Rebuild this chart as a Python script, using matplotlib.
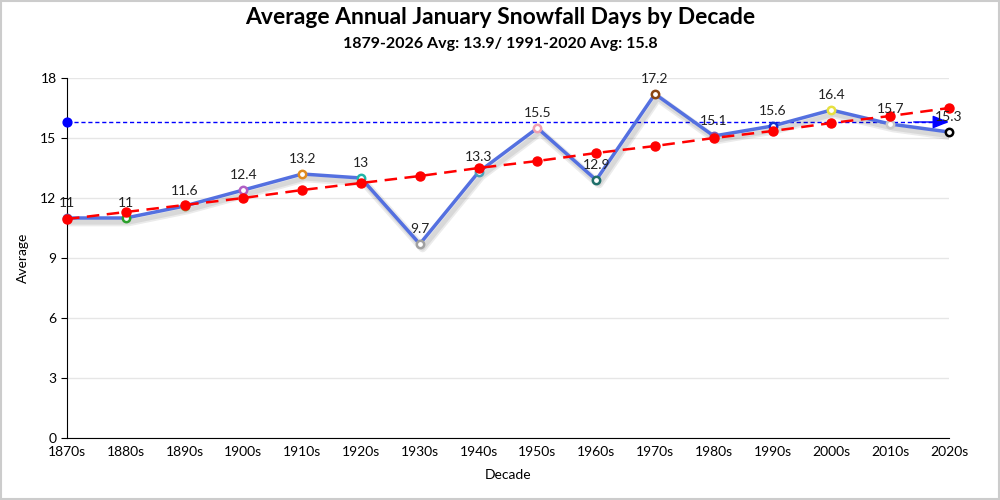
import matplotlib
matplotlib.use('Agg')
import matplotlib.pyplot as plt
import matplotlib.patheffects as pe

plt.rcParams['font.family'] = ['Lato', 'DejaVu Sans']

decades = ['1870s', '1880s', '1890s', '1900s', '1910s', '1920s', '1930s', '1940s',
           '1950s', '1960s', '1970s', '1980s', '1990s', '2000s', '2010s', '2020s']
averages = [11, 11, 11.6, 12.4, 13.2, 13, 9.7, 13.3, 15.5, 12.9, 17.2, 15.1, 15.6, 16.4, 15.7, 15.3]
trend = [10.95, 11.3, 11.65, 12.0, 12.4, 12.75, 13.1, 13.5, 13.85, 14.25, 14.6, 15.0,
         15.35, 15.75, 16.1, 16.5]
normal_avg = 15.8
marker_colors = ['#5470c6', '#2ca02c', '#8c8c3c', '#b05fc4', '#e08a1e', '#1fb5a8', '#a0a0a0',
                 '#4aa0b8', '#f0a0b0', '#1f6f6a', '#8b4513', '#7a5ab8', '#1030d0', '#e6e040',
                 '#c8c8c8', '#000000']

fig = plt.figure(figsize=(10, 5), dpi=100)
ax = fig.add_axes([0.067, 0.124, 0.882, 0.72])
x = list(range(len(decades)))

# main line with a soft shadow
shadow = [pe.SimpleLineShadow(offset=(2, -3), alpha=0.08, shadow_color='black', linewidth=6),
          pe.SimpleLineShadow(offset=(2, -3), alpha=0.08, shadow_color='black', linewidth=3.5),
          pe.Normal()]
ax.plot(x, averages, color='#5470e0', lw=2.5, zorder=3, path_effects=shadow)
for i, v in enumerate(averages):
    ax.scatter(i, v, s=28, marker='o', facecolor='white', edgecolor=marker_colors[i],
               linewidths=1.8, zorder=4, clip_on=False)
    ax.text(i, v + 0.45, f'{v:g}', ha='center', va='bottom', fontsize=10, color='#222222', zorder=6)

# trend line
ax.plot(x, trend, color='red', lw=1.8, ls=(0, (5, 3)), marker='o', ms=6.5, zorder=5, clip_on=False)

# 1991-2020 average line
ax.plot([0, len(x) - 1], [normal_avg, normal_avg], color='blue', lw=1, ls=(0, (3, 2)), zorder=2)
ax.scatter(0, normal_avg, s=40, color='blue', zorder=5, clip_on=False)
ax.annotate('', xy=(len(x) - 1, normal_avg), xytext=(len(x) - 1.6, normal_avg),
            arrowprops=dict(arrowstyle='-|>,head_length=1.0,head_width=0.4', color='blue', lw=1,
                            shrinkA=0, shrinkB=0), zorder=5)

ax.set_xlim(0, len(x) - 1)
ax.set_ylim(0, 18)
ax.set_yticks(range(0, 19, 3))
ax.set_xticks(x)
ax.set_xticklabels(decades)
ax.tick_params(axis='x', length=0, pad=6, labelsize=10)
ax.tick_params(axis='y', length=4, labelsize=10)
ax.grid(axis='y', color='#e6e6e6', lw=1)
ax.set_axisbelow(True)
for s in ['top', 'right']:
    ax.spines[s].set_visible(False)
ax.spines['left'].set_color('black')
ax.spines['bottom'].set_color('black')
ax.set_xlabel('Decade', fontsize=10, labelpad=8)
ax.set_ylabel('Average', fontsize=10, labelpad=8)

fig.text(0.5, 0.965, 'Average Annual January Snowfall Days by Decade', ha='center', va='center',
         fontsize=16.5, fontweight='bold')
fig.text(0.5, 0.912, '1879-2026 Avg: 13.9/ 1991-2020 Avg: 15.8', ha='center', va='center',
         fontsize=11.5, fontweight='bold')

fig.patches.append(plt.Rectangle((0.001, 0.002), 0.998, 0.996, transform=fig.transFigure,
                                 fill=False, edgecolor='#cccccc', lw=1.5))

fig.savefig('out.png', dpi=100)
